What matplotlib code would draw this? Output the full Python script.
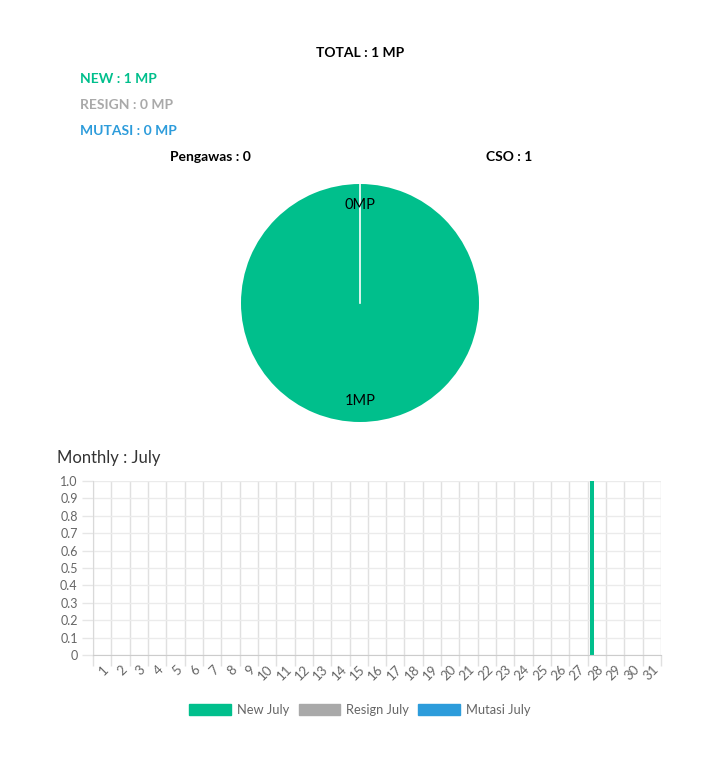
import numpy as np
import matplotlib as mpl
mpl.use('Agg')
import matplotlib.pyplot as plt
from matplotlib.patches import Patch

plt.rcParams['font.family'] = ['Lato', 'DejaVu Sans']

green = '#00bf8c'
grey = '#a9a9a9'
blue = '#2d9cdb'

# summary numbers
total_mp = 1
new_mp = 1
resign_mp = 0
mutasi_mp = 0

# pie: Pengawas vs CSO
pie_labels = ['Pengawas', 'CSO']
pie_values = [0, 1]

# monthly bars, days of July
days = list(range(1, 32))
new_july = [0] * 31
new_july[27] = 1
resign_july = [0] * 31
mutasi_july = [0] * 31

W, H = 720, 769
fig = plt.figure(figsize=(W / 100, H / 100), dpi=100)

def fx(px):
    return px / W

def fy(py):
    return 1 - py / H

fig.text(fx(360), fy(53), 'TOTAL : %d MP' % total_mp, ha='center', va='center',
         fontsize=10, fontweight='bold', color='black')
fig.text(fx(80), fy(79), 'NEW : %d MP' % new_mp, ha='left', va='center',
         fontsize=10, fontweight='bold', color=green)
fig.text(fx(80), fy(105), 'RESIGN : %d MP' % resign_mp, ha='left', va='center',
         fontsize=10, fontweight='bold', color=grey)
fig.text(fx(80), fy(131), 'MUTASI : %d MP' % mutasi_mp, ha='left', va='center',
         fontsize=10, fontweight='bold', color=blue)
fig.text(fx(210), fy(157), '%s : %d' % (pie_labels[0], pie_values[0]), ha='center', va='center',
         fontsize=10, fontweight='bold', color='black')
fig.text(fx(509), fy(157), '%s : %d' % (pie_labels[1], pie_values[1]), ha='center', va='center',
         fontsize=10, fontweight='bold', color='black')

# pie
r = 119
start = 90
pax = fig.add_axes([fx(360 - r), fy(303 + r), 2 * r / W, 2 * r / H])
wedges, texts = pax.pie(pie_values, colors=['#2d9cdb', green], startangle=start, counterclock=False,
                        labels=['%dMP' % v for v in pie_values], labeldistance=0.82,
                        wedgeprops=dict(edgecolor='none'),
                        textprops=dict(fontsize=10.5, color='black'))
for t in texts:
    t.set_ha('center')
    t.set_va('center')
# slice border at the start angle
a = np.deg2rad(start)
pax.plot([0, np.cos(a)], [0, np.sin(a)], color='white', linewidth=1.2)
pax.set_xlim(-1.0, 1.0)
pax.set_ylim(-1.0, 1.0)

# monthly bars
fig.text(fx(57), fy(458), 'Monthly : July', ha='left', va='center', fontsize=12, color='#333333')
ax = fig.add_axes([fx(93), fy(655), fx(661) - fx(93), fy(481) - fy(655)])
x = np.array(days)
bw = 0.8 * 0.9 / 3
slot = 0.8 / 3
ax.bar(x - slot, new_july, width=bw, color=green, label='New July')
ax.bar(x, resign_july, width=bw, color=grey, label='Resign July')
ax.bar(x + slot, mutasi_july, width=bw, color=blue, label='Mutasi July')

ax.set_xlim(0.5, 31.5)
ax.set_ylim(0, 1.0)
ax.set_xticks(x)
ax.set_xticklabels([str(d) for d in days], rotation=45, ha='right', va='top',
                   rotation_mode='anchor', fontsize=9.5, color='#666666')
ax.set_xticks(np.arange(0.5, 32, 1), minor=True)
yt = np.arange(0, 1.01, 0.1)
ax.set_yticks(yt)
ax.set_yticklabels(['0'] + ['%.1f' % v for v in yt[1:]], fontsize=9, color='#666666')
ax.tick_params(axis='x', which='major', length=0, pad=6)
ax.tick_params(axis='x', which='minor', length=8, color='#e0e0e0', width=1)
ax.tick_params(axis='y', length=8, color='#e6e6e6', width=1, pad=3)
ax.grid(axis='x', which='minor', color='#e0e0e0', linewidth=1)
ax.grid(axis='y', which='major', color='#ebebeb', linewidth=1)
ax.set_axisbelow(True)
for s in ['top', 'right']:
    ax.spines[s].set_visible(False)
ax.spines['left'].set_color('#d9d9d9')
ax.spines['bottom'].set_color('#cccccc')

handles = [Patch(color=green), Patch(color=grey), Patch(color=blue)]
fig.legend(handles, ['New July', 'Resign July', 'Mutasi July'], loc='center',
           bbox_to_anchor=(fx(360), fy(710)), ncol=3, frameon=False, fontsize=9.3,
           handlelength=3.2, handleheight=1.0, handletextpad=0.5, columnspacing=0.7,
           labelcolor='#666666')

fig.savefig('out.png', dpi=100)
